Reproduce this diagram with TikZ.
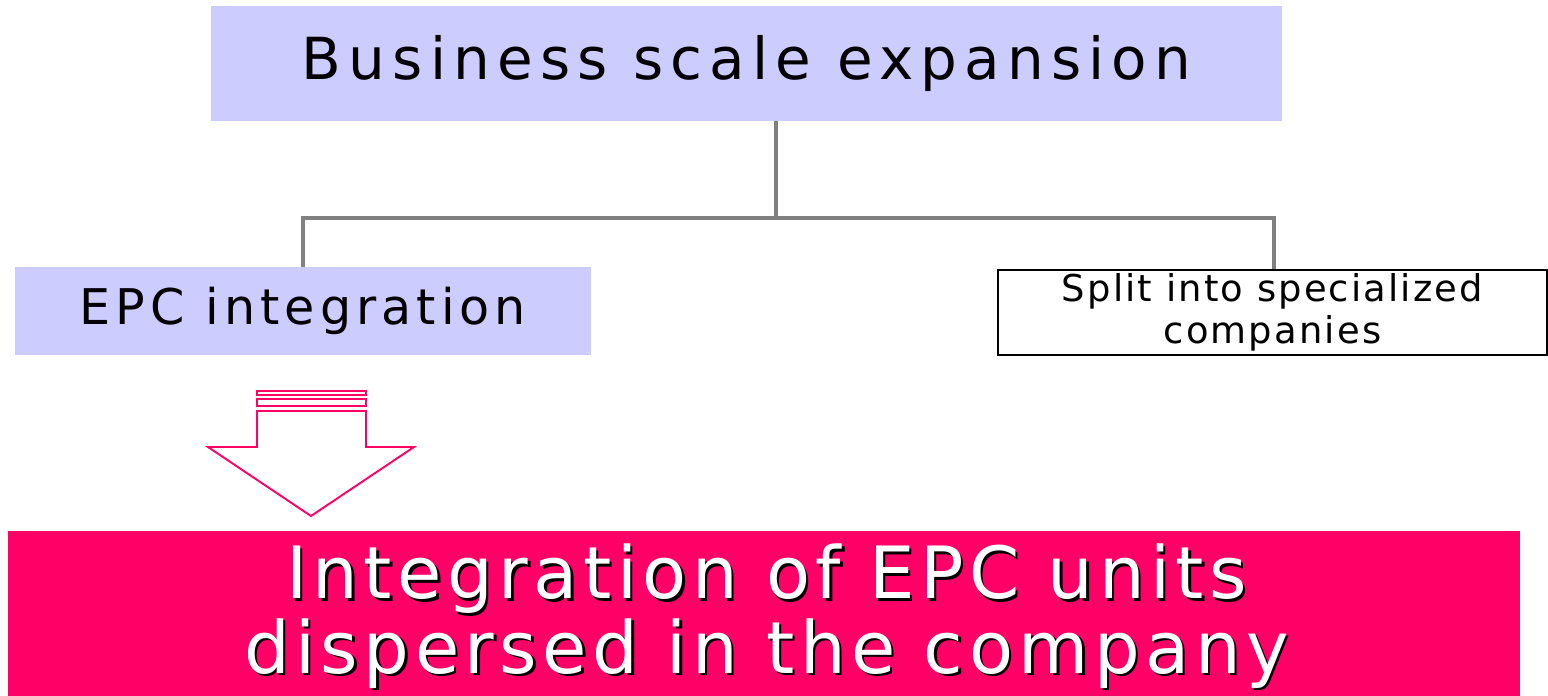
\documentclass[tikz,border=0pt]{standalone}
\usepackage{fontspec}
\setmainfont{DejaVu Sans}
\usetikzlibrary{calc}
\usetikzlibrary{positioning}
\definecolor{lilac}{HTML}{CCCCFF}
\definecolor{hotpink}{HTML}{FF0066}
\definecolor{linkgray}{HTML}{808080}
\tikzstyle{bluebox} = [fill=lilac, inner sep=0pt, align=center]
\tikzstyle{whitebox} = [draw=black, line width=1.1pt, fill=white, inner sep=0pt, align=center]
\tikzstyle{link} = [draw=linkgray, line width=2.3pt]
\tikzstyle{pinkline} = [draw=hotpink, line width=1.1pt, line join=miter]
\newcommand{\spaced}[3]{\fontsize{#1}{#2}\selectfont\addfontfeatures{LetterSpace=#3}}

\begin{document}
\begin{tikzpicture}[x=0.02cm, y=-0.02cm]
\useasboundingbox (0,0) rectangle (1548,696);
\node[bluebox, minimum width=21.42cm, minimum height=2.30cm,
  font=\spaced{33}{38}{12.4}] (top) at (746.5,63.5) {Business scale expansion};
\node[bluebox, minimum width=11.52cm, minimum height=1.76cm,
  font=\spaced{28}{32}{10.2}] (epc) at (303,311) {EPC integration};
\node[whitebox, minimum width=10.98cm, minimum height=1.70cm,
  font=\spaced{21}{24}{5.8}] (split) at (1272.5,312.5) {Split into specialized\\companies};
\node[fill=hotpink, minimum width=30.24cm, minimum height=3.30cm] (goal) at (764,613.5) {};
\node[align=center, text=black, font=\spaced{41}{42.5}{7.6}] (goalshadow)
  at ($(goal)+(5,5)$) {Integration of EPC units\\dispersed in the company};
\node[align=center, text=white, font=\spaced{41}{42.5}{7.6}] (goaltext)
  at ($(goal)+(2.5,2.5)$) {Integration of EPC units\\dispersed in the company};

\coordinate (fork) at (776,218);
\draw[link] (fork |- top.south) -- (fork);
\draw[link] (epc.north) |- (fork) -| ($(split.north)+(1.5,0)$);

% arrow down to the goal
\draw[pinkline] (257,391) rectangle (366,395);
\draw[pinkline] (257,399) rectangle (366,406);
\draw[pinkline] (257,411) -- (366,411) -- (366,447) -- (414,447) -- (311,516)
  -- (208,447) -- (257,447) -- cycle;
\end{tikzpicture}
\end{document}
